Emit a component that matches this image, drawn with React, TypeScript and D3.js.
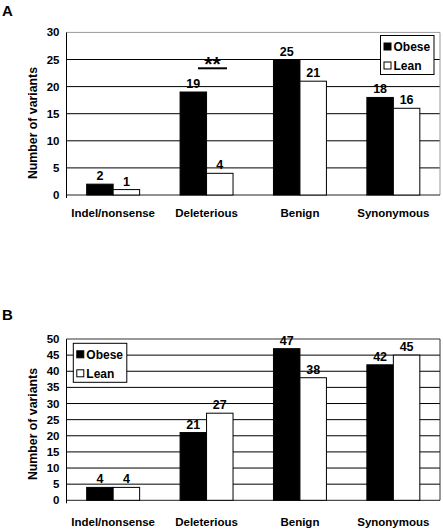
import React from "react";
import * as d3 from "d3";

const categories = ["Indel/nonsense", "Deleterious", "Benign", "Synonymous"];
const seriesNames = ["Obese", "Lean"];
const obeseA = [2, 19, 25, 18];
const leanA = [1, 4, 21, 16];
const obeseB = [4, 21, 47, 42];
const leanB = [4, 27, 38, 45];
const ticksA = [0, 5, 10, 15, 20, 25, 30];
const ticksB = [0, 5, 10, 15, 20, 25, 30, 35, 40, 45, 50];

const FONT = "'Liberation Sans', Arial, Helvetica, sans-serif";
const X0 = 66.5;
const X1 = 440;

type PanelProps = {
  label: string;
  labelY: number;
  obese: number[];
  lean: number[];
  ticks: number[];
  yTop: number;
  yBottom: number;
  frameColor: string;
  legendX: number;
  legendY: number;
  catLabelY: number;
  titleY: number;
  star?: boolean;
};

function Panel(p: PanelProps) {
  const max = p.ticks[p.ticks.length - 1];
  const y = d3.scaleLinear().domain([0, max]).range([p.yBottom, p.yTop]);
  const x = d3
    .scaleBand<string>()
    .domain(categories)
    .range([X0, X1])
    .paddingInner(0.433)
    .paddingOuter(0.216);
  const xs = d3.scaleBand<string>().domain(seriesNames).range([0, x.bandwidth()]);
  const series = [p.obese, p.lean];
  const fills = ["#000", "#fff"];
  return (
    <g>
      <text x={2} y={p.labelY} fontFamily={FONT} fontWeight="bold" fontSize={15}>
        {p.label}
      </text>
      {p.ticks.map((t) => (
        <g key={t}>
          {t > 0 && t < max && (
            <line x1={X0} x2={X1} y1={y(t)} y2={y(t)} stroke="#000" strokeWidth={1} />
          )}
          <text
            x={59.5}
            y={y(t) + 4}
            textAnchor="end"
            fontFamily={FONT}
            fontWeight="bold"
            fontSize={11.5}
          >
            {t}
          </text>
        </g>
      ))}
      <line x1={X0} x2={X1} y1={p.yTop} y2={p.yTop} stroke={p.frameColor} strokeWidth={1} />
      <line x1={X1} x2={X1} y1={p.yTop} y2={p.yBottom} stroke={p.frameColor} strokeWidth={1} />
      <line x1={X0} x2={X1} y1={p.yBottom} y2={p.yBottom} stroke="#222" strokeWidth={1} />
      <line x1={X0} x2={X0} y1={p.yTop} y2={p.yBottom + 3} stroke="#000" strokeWidth={1} />
      {categories.map((c, i) => (
        <g key={c}>
          {seriesNames.map((s, j) => {
            const v = series[j][i];
            const bx = (x(c) as number) + (xs(s) as number);
            return (
              <g key={s}>
                <rect
                  x={bx}
                  y={y(v)}
                  width={xs.bandwidth()}
                  height={p.yBottom - y(v)}
                  fill={fills[j]}
                  stroke="#000"
                  strokeWidth={1}
                />
                <text
                  x={bx + xs.bandwidth() / 2}
                  y={y(v) - 4}
                  textAnchor="middle"
                  fontFamily={FONT}
                  fontWeight="bold"
                  fontSize={12.5}
                >
                  {v}
                </text>
              </g>
            );
          })}
          <text
            x={(x(c) as number) + x.bandwidth() / 2}
            y={p.catLabelY}
            textAnchor="middle"
            fontFamily={FONT}
            fontWeight="bold"
            fontSize={11.5}
          >
            {c}
          </text>
        </g>
      ))}
      <text
        transform={`translate(37,${p.titleY}) rotate(-90)`}
        textAnchor="middle"
        fontFamily={FONT}
        fontWeight="bold"
        fontSize={12.3}
      >
        Number of variants
      </text>
      {p.star && (
        <g>
          <line x1={198} x2={227} y1={68.3} y2={68.3} stroke="#000" strokeWidth={2} />
          <text x={212.5} y={71} textAnchor="middle" fontFamily={FONT} fontWeight="bold" fontSize={21}>
            **
          </text>
        </g>
      )}
      <g transform={`translate(${p.legendX},${p.legendY})`}>
        <rect x={0} y={0} width={53.5} height={39} fill="#fff" stroke="#000" strokeWidth={1} />
        {seriesNames.map((s, j) => (
          <g key={s} transform={`translate(0,${11 + j * 19})`}>
            <rect x={3.5} y={-3.5} width={7} height={7} fill={fills[j]} stroke="#000" strokeWidth={1} />
            <text x={13} y={4.3} fontFamily={FONT} fontWeight="bold" fontSize={12}>
              {s}
            </text>
          </g>
        ))}
      </g>
    </g>
  );
}

export default function App() {
  return (
    <svg width={443} height={530} style={{ position: "absolute", left: 0, top: 0, background: "#fff" }}>
      <rect x={0} y={0} width={443} height={530} fill="#fff" />
      <Panel
        label="A"
        labelY={16}
        obese={obeseA}
        lean={leanA}
        ticks={ticksA}
        yTop={32.4}
        yBottom={195}
        frameColor="#999"
        legendX={380.5}
        legendY={35.5}
        catLabelY={217}
        titleY={123}
        star
      />
      <Panel
        label="B"
        labelY={320}
        obese={obeseB}
        lean={leanB}
        ticks={ticksB}
        yTop={339}
        yBottom={500.3}
        frameColor="#333"
        legendX={73.3}
        legendY={343.3}
        catLabelY={525.5}
        titleY={424}
      />
    </svg>
  );
}
